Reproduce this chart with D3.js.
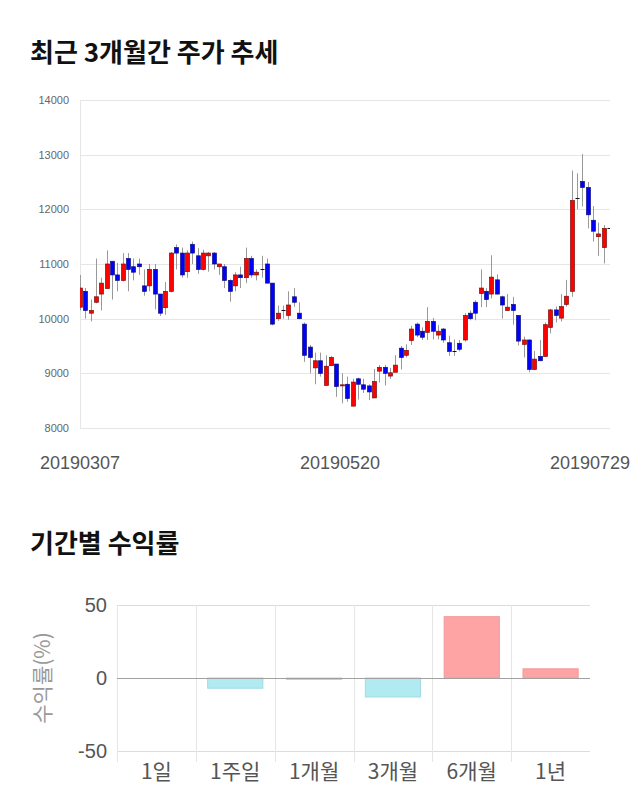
<!DOCTYPE html>
<html>
<head>
<meta charset="utf-8">
<script src="https://cdn.jsdelivr.net/npm/d3@7"></script>
<style>
  html, body { margin: 0; padding: 0; background: #fff; }
  svg { display: block; }
</style>
</head>
<body>
<svg id="chart" width="640" height="810"></svg>
<script>
// ---------- Data: 3-month daily candles (index = trading day) ----------
const openP  = [10210,10500,10100,10300,10450,10550,11050,10800,10700,11100,10950,11000,10600,10600,10900,10450,10200,10500,11300,11200,
                10860,11360,11150,10900,11150,11200,10950,10950,10700,10600,10800,10750,11100,10800,10900,11000,10650,10000,10150,10060,
                10400,10100,9900,9480,9100,9230,8780,9140,9170,8770,8800,8400,8900,8790,8770,8550,9040,9110,8950,9020,
                9460,9330,9600,9900,9770,9750,9950,9700,9810,9560,9400,9550,9610,10100,10300,10460,10500,10450,10710,10400,
                10150,10260,10060,9530,9610,9070,9310,9310,9840,10160,10010,10260,10500,12200,12510,12400,11800,11500,11300,11650];
const highP  = [10800,10560,10350,11100,10750,11250,11050,11020,11200,11200,11100,11100,10900,11000,11000,10450,10670,11220,11360,11300,
                11250,11410,11290,11260,11220,11220,11000,11000,10720,10850,10950,11300,11150,10900,11150,11100,10650,10240,10240,10500,
                10560,10300,9930,9520,9380,9380,9330,9320,9170,9000,8940,8900,8920,8900,8800,9080,9150,9150,9100,9330,
                9500,9530,9870,9930,9840,10210,10010,9880,9830,9690,9620,9610,10100,10150,10340,10900,10560,11160,10810,10420,
                10450,10400,10060,9670,9620,9410,9610,9930,10180,10220,10450,10710,12710,12660,13010,12500,12060,11760,11710,11650];
const lowP   = [10150,10000,9950,10280,10150,10550,10350,10500,10680,10500,10700,10800,10420,10500,10170,10050,10070,10480,10900,10750,
                10750,11000,10820,10880,10860,10900,10800,10560,10310,10500,10560,10650,10750,10700,10750,10650,9880,9960,10000,9980,
                10220,9990,9210,9000,8800,8940,8780,9140,8570,8450,8480,8400,8520,8640,8510,8550,8830,8780,8900,9020,
                9070,9290,9520,9660,9610,9610,9620,9620,9560,9320,9320,9400,9580,9970,9970,10210,10210,10370,10440,10000,
                10140,9890,9510,9290,9020,9060,9230,9300,9730,9930,9950,10220,10400,12000,12050,11650,11410,11150,11010,11650];
const closeP = [10560,10150,10150,10400,10650,11000,10800,10700,11000,10900,10850,10950,10500,10900,10450,10100,10500,11200,11200,10800,
                11200,11200,10900,11200,11200,11000,11000,10700,10500,10800,10750,11100,10800,10850,10900,10650,9900,10100,10150,10250,
                10300,10000,9330,9290,9230,9000,9130,9290,8760,8790,8540,8840,8800,8710,8660,8850,9110,9000,9010,9150,
                9290,9420,9810,9700,9660,9950,9770,9770,9610,9400,9400,9440,10060,10000,10100,10560,10350,10760,10450,10250,
                10210,10150,9590,9610,9070,9260,9230,9890,10160,10060,10220,10410,12160,12200,12400,11900,11600,11550,11650,11650];
const priceTicks = [8000, 9000, 10000, 11000, 12000, 13000, 14000];
const dateLabels = ["20190307", "20190520", "20190729"];

// ---------- Data: period returns ----------
const periods = ["1일", "1주일", "1개월", "3개월", "6개월", "1년"];
const returns = [0, -7, -1, -13, 42, 6.3];
const returnTicks = [-50, 0, 50];

const svg = d3.select("#chart");
const KR = "'Noto Sans CJK KR', 'Noto Sans', sans-serif";
const LAT = "'Liberation Sans', Arial, sans-serif";
const hyphenFmt = d => String(d);

// ---------- Titles ----------
svg.append("text").attr("x", 30).attr("y", 62)
  .attr("font-family", KR).attr("font-weight", "bold").attr("font-size", 26)
  .attr("fill", "#111").text("최근 3개월간 주가 추세");
svg.append("text").attr("x", 30).attr("y", 553)
  .attr("font-family", KR).attr("font-weight", "bold").attr("font-size", 26)
  .attr("fill", "#111").text("기간별 수익률");

// ---------- Candlestick chart ----------
const cLeft = 80, cRight = 610, cTop = 100, cBottom = 428;
const x = d3.scaleLinear().domain([0, closeP.length - 1]).range([cLeft, 609]);
const y = d3.scaleLinear().domain([8000, 14000]).range([cBottom, cTop]);

const gGrid = svg.append("g");
gGrid.selectAll("line.h").data(priceTicks).join("line")
  .attr("x1", cLeft).attr("x2", cRight)
  .attr("y1", d => Math.round(y(d)) + 0.5).attr("y2", d => Math.round(y(d)) + 0.5)
  .attr("stroke", "#e6e6e6").attr("stroke-width", 1);
gGrid.append("line")
  .attr("x1", cLeft + 0.5).attr("x2", cLeft + 0.5).attr("y1", cTop).attr("y2", cBottom)
  .attr("stroke", "#e6e6e6");

const yAxis = d3.axisLeft(y).tickValues(priceTicks).tickSize(0).tickPadding(11).tickFormat(d3.format("d"));
const gy = svg.append("g").attr("transform", `translate(${cLeft},0)`).call(yAxis);
gy.select(".domain").remove();
gy.selectAll("text").attr("font-family", LAT).attr("font-size", 11).attr("fill", "#666");

svg.append("clipPath").attr("id", "clipC").append("rect")
  .attr("x", cLeft).attr("y", cTop - 5).attr("width", cRight - cLeft).attr("height", cBottom - cTop + 10);

const candles = closeP.map((c, i) => ({ i, o: openP[i], h: highP[i], l: lowP[i], c }));
const gC = svg.append("g").attr("clip-path", "url(#clipC)");
const bw = 4;
gC.selectAll("line.wick").data(candles).join("line")
  .attr("x1", d => Math.round(x(d.i)) + 0.5).attr("x2", d => Math.round(x(d.i)) + 0.5)
  .attr("y1", d => y(d.h)).attr("y2", d => y(d.l))
  .attr("stroke", "#999").attr("stroke-width", 1);
gC.selectAll("rect.body").data(candles.filter(d => d.c !== d.o)).join("rect")
  .attr("x", d => Math.round(x(d.i)) - bw / 2 + 0.5)
  .attr("y", d => y(Math.max(d.o, d.c)))
  .attr("width", bw)
  .attr("height", d => Math.max(1, Math.abs(y(d.o) - y(d.c))))
  .attr("fill", d => d.c > d.o ? "#ff0000" : "#0000ff")
  .attr("stroke", d => d.c > d.o ? "#7a1010" : "#10107a")
  .attr("stroke-width", 0.7);
gC.selectAll("line.doji").data(candles.filter(d => d.c === d.o)).join("line")
  .attr("x1", d => Math.round(x(d.i)) - bw / 2 + 0.5).attr("x2", d => Math.round(x(d.i)) + bw / 2 + 0.5)
  .attr("y1", d => Math.round(y(d.c)) + 0.5).attr("y2", d => Math.round(y(d.c)) + 0.5)
  .attr("stroke", "#111").attr("stroke-width", 1);

// date labels: spread evenly across the axis, kept inside the page
const xl = d3.scalePoint().domain(dateLabels).range([cLeft, 600]);
svg.append("g").selectAll("text").data(dateLabels).join("text")
  .attr("x", d => Math.min(xl(d), 590))
  .attr("y", 469)
  .attr("text-anchor", "middle")
  .attr("font-family", LAT).attr("font-size", 18).attr("fill", "#555")
  .text(d => d);

// ---------- Returns bar chart ----------
const bLeft = 117, bRight = 590, bTop = 605, bBottom = 751;
const xb = d3.scaleBand().domain(periods).range([bLeft, bRight]).paddingInner(0.3).paddingOuter(0.15);
const yb = d3.scaleLinear().domain([-50, 50]).range([bBottom, bTop]);
const step = xb.step();

const gB = svg.append("g");
gB.selectAll("line.hg").data(returnTicks.filter(d => d !== 0)).join("line")
  .attr("x1", bLeft).attr("x2", bRight)
  .attr("y1", d => Math.round(yb(d)) + 0.5).attr("y2", d => Math.round(yb(d)) + 0.5)
  .attr("stroke", "#dcdcdc");
gB.selectAll("line.vg").data(periods).join("line")
  .attr("x1", d => Math.round(xb(d) - step * 0.15) + 0.5).attr("x2", d => Math.round(xb(d) - step * 0.15) + 0.5)
  .attr("y1", bTop).attr("y2", bBottom + 11)
  .attr("stroke", "#e6e6e6");

const bars = periods.map((p, i) => ({ p, v: returns[i] }));
gB.selectAll("rect.bar").data(bars.filter(d => d.v !== 0)).join("rect")
  .attr("x", d => xb(d.p))
  .attr("width", xb.bandwidth())
  .attr("y", d => yb(Math.max(0, d.v)))
  .attr("height", d => Math.abs(yb(d.v) - yb(0)))
  .attr("fill", d => d.v > 0 ? "#ffa4a4" : "#b0ebf2")
  .attr("stroke", d => d.v > 0 ? "#f29a9a" : "#a2dbe3")
  .attr("stroke-width", 1);

gB.append("line")
  .attr("x1", bLeft).attr("x2", bRight)
  .attr("y1", Math.round(yb(0)) + 0.5).attr("y2", Math.round(yb(0)) + 0.5)
  .attr("stroke", "#a0a0a0");

const ybAxis = d3.axisLeft(yb).tickValues(returnTicks).tickSize(0).tickPadding(10).tickFormat(hyphenFmt);
const gyb = svg.append("g").attr("transform", `translate(${bLeft},0)`).call(ybAxis);
gyb.select(".domain").remove();
gyb.selectAll("text").attr("font-family", LAT).attr("font-size", 20).attr("fill", "#555");

const xbAxis = d3.axisBottom(xb).tickSize(0).tickPadding(13);
const gxb = svg.append("g").attr("transform", `translate(0,${bBottom})`).call(xbAxis);
gxb.select(".domain").remove();
gxb.selectAll("text").attr("font-family", KR).attr("font-size", 21).attr("fill", "#555");

svg.append("text")
  .attr("transform", `translate(50,${yb(0)}) rotate(-90)`)
  .attr("text-anchor", "middle")
  .attr("font-family", KR).attr("font-size", 21).attr("fill", "#999")
  .text("수익률(%)");
</script>
</body>
</html>
